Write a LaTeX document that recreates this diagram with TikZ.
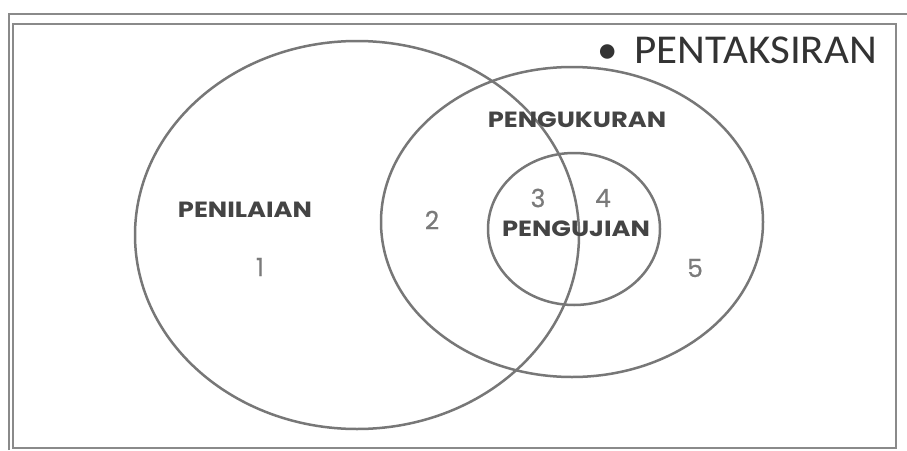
\documentclass[tikz,border=0pt]{standalone}
\usepackage{fontspec}
\usetikzlibrary{shapes.geometric}
\setmainfont{Poppins}
\newfontfamily\calib{Carlito}
\newfontfamily\numfont{Poppins}[FakeBold=0.6]
\definecolor{ringgray}{HTML}{777777}
\definecolor{framegray}{HTML}{8A8A8A}
\definecolor{labelgray}{HTML}{444444}
\definecolor{titlegray}{HTML}{333333}
\definecolor{numgray}{HTML}{7A7A7A}
\tikzset{
  ring/.style={draw=ringgray, line width=2.5pt, ellipse, inner sep=0pt},
  framer/.style={draw=framegray, line width=1.3pt},
  setlabel/.style={text=labelgray, font=\fontsize{22}{22}\selectfont\bfseries, inner sep=0pt},
  region/.style={text=numgray, font=\numfont\fontsize{25}{25}\selectfont, inner sep=0pt},
}
\newcommand{\wide}[1]{\scalebox{1.17}[1]{#1}}
\begin{document}
\begin{tikzpicture}[x=1pt,y=-1pt]
\useasboundingbox (0,0) rectangle (907,450);
\fill[white] (0,0) rectangle (907,450);
% frames
\coordinate (otl) at (9,14);
\coordinate (otr) at (907,14);
\coordinate (obl) at (9,450);
\draw[framer] (obl) -- (otl) -- (otr);
\coordinate (itl) at (13,24);
\coordinate (ibr) at (896,448);
\draw[framer] (itl) rectangle (ibr);
% ellipses
\node[ring, minimum width=444pt, minimum height=388pt] (big) at (357,235) {};
\node[ring, minimum width=382pt, minimum height=310pt] (mid) at (572,222) {};
\node[ring, minimum width=172pt, minimum height=152pt] (small) at (574,229) {};
% title
\node[anchor=base west, text=titlegray, font=\calib\fontsize{41}{41}\selectfont, inner sep=0pt] (title) at (597,63) {\textbullet\hspace{17pt}\scalebox{1.05}[1]{PENTAKSIRAN}};
% labels
\node[setlabel] (penilaian) at (245,210) {\wide{PENILAIAN}};
\node[setlabel] (pengukuran) at (577,120) {\wide{PENGUKURAN}};
\node[setlabel] (pengujian) at (576,229) {\wide{PENGUJIAN}};
\node[region] (r1) at (260,267) {1};
\node[region] (r2) at (432,220) {2};
\node[region] (r3) at (538,198) {3};
\node[region] (r4) at (603,198) {4};
\node[region] (r5) at (695,268) {5};
\end{tikzpicture}
\end{document}
